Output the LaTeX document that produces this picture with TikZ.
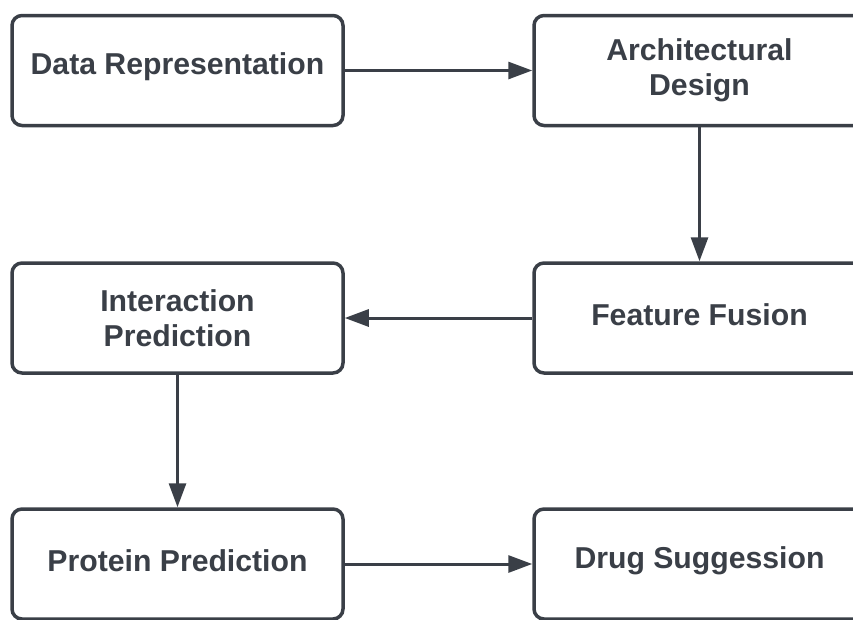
\documentclass[tikz,border=0pt]{standalone}
\usepackage{fontspec}
\setmainfont{Liberation Sans}
\usetikzlibrary{arrows.meta}
\definecolor{ink}{HTML}{3A3F47}
\newcommand{\upby}[1]{\raisebox{3.5pt}[\height][\depth]{#1}}
\begin{document}
\begin{tikzpicture}[x=1pt,y=-1pt,
  box/.style={draw=ink, line width=3.5pt, rounded corners=10pt, fill=white,
    minimum width=331pt, minimum height=110pt, inner sep=0pt, align=center,
    text=ink, font=\fontsize{30.2}{35.5}\selectfont\bfseries},
  conn/.style={draw=ink, line width=3pt, -{Triangle[length=24pt,width=17pt]}}]
\useasboundingbox (0,0) rectangle (853,619);
\clip (0,0) rectangle (853,619);
\node[box] (data) at (177.5,70.5) {\upby{Data Representation}};
\node[box] (arch) at (699.5,70.5) {Architectural\\Design};
\node[box] (fusion) at (699.5,318) {\upby{Feature Fusion}};
\node[box] (inter) at (177.5,318) {Interaction\\Prediction};
\node[box] (prot) at (177.5,564) {\upby{Protein Prediction}};
\node[box] (drug) at (699.5,564) {\upby{Drug Suggession}};
\draw[conn] (data) -- (arch);
\draw[conn] (arch) -- (fusion);
\draw[conn] (fusion) -- (inter);
\draw[conn] (inter) -- (prot);
\draw[conn] (prot) -- (drug);
\end{tikzpicture}
\end{document}
